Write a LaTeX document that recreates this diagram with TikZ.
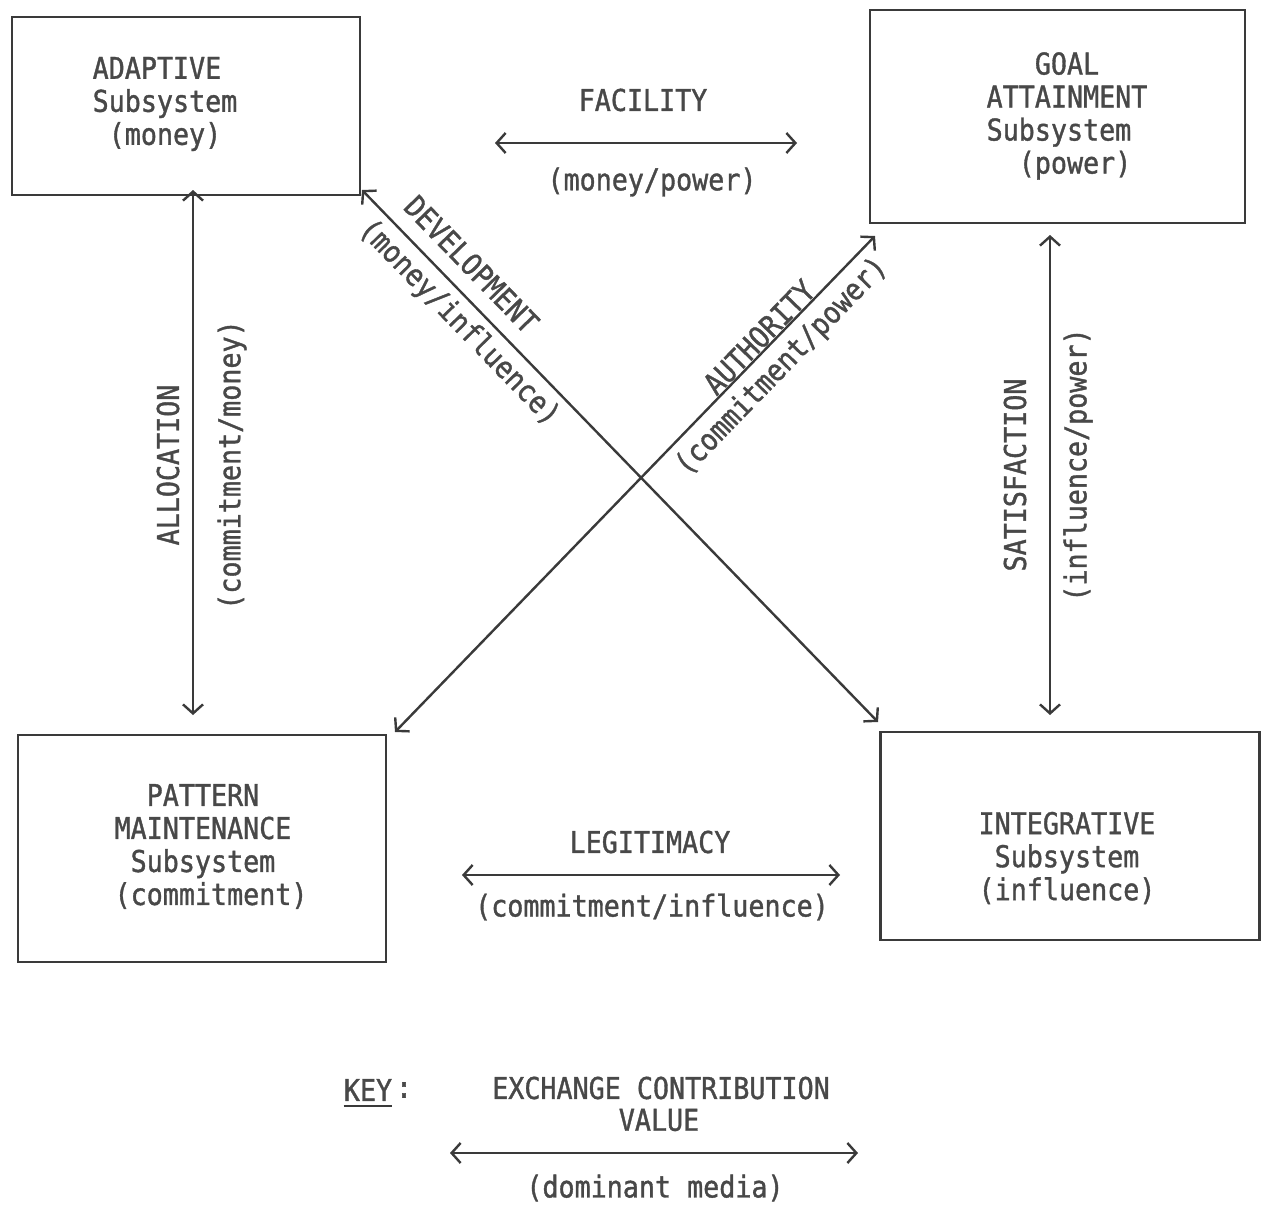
\documentclass[tikz,border=0pt]{standalone}
\usepackage{fontspec}
\setmonofont{DejaVu Sans Mono}[FakeStretch=0.89,FakeBold=1.2]
\usetikzlibrary{arrows.meta}
\definecolor{ink}{HTML}{3A3A3A}
\definecolor{type}{HTML}{484848}
\newcommand{\onech}{\phantom{X}}

\begin{document}
\begin{tikzpicture}[x=1pt,y=-1pt,
  box/.style={draw=ink, line width=2.6pt, inner sep=0pt},
  lbl/.style={text=type, font=\ttfamily\fontsize{30}{33}\selectfont, inner sep=0pt, align=center},
  tip/.tip={Straight Barb[length=9pt,width=20pt]},
  link/.style={draw=ink, line width=2.4pt, tip-tip}]

\fill[white] (0,0) rectangle (1265,1204);
\useasboundingbox (0,0) rectangle (1265,1204);

% the four subsystems
\node[box, minimum width=348pt, minimum height=178pt] (adapt) at (186,106) {};
\node[box, minimum width=375pt, minimum height=213pt] (goal) at (1057.5,116.5) {};
\node[box, minimum width=368pt, minimum height=227pt] (pattern) at (202,848.5) {};
\node[box, minimum width=379pt, minimum height=208pt] (integ) at (1070,836) {};

\node[lbl] (adaptT) at (165,104) {ADAPTIVE\onech\\Subsystem\\(money)};
\node[lbl] (goalT) at (1067,116) {GOAL\\ATTAINMENT\\Subsystem\onech\\\onech(power)};
\node[lbl] (patternT) at (203,846.5) {PATTERN\\MAINTENANCE\\Subsystem\\\onech(commitment)};
\node[lbl] (integT) at (1067,858) {INTEGRATIVE\\Subsystem\\(influence)};

% connector end points
\coordinate (facL) at (495,143);
\coordinate (facR) at (797,143);
\coordinate (legL) at (462,875);
\coordinate (legR) at (840,875);
\coordinate (allT) at (193,190);
\coordinate (allB) at (193,715);
\coordinate (satT) at (1050,235);
\coordinate (satB) at (1050,715);
\coordinate (devA) at (362,190);
\coordinate (devB) at (878,722);
\coordinate (autA) at (395,732);
\coordinate (autB) at (875,236);
\coordinate (keyL) at (450,1153);
\coordinate (keyR) at (858,1153);

% exchanges
\draw[link] (facL) -- (facR);
\node[lbl] (facility) at (643,100) {FACILITY};
\node[lbl] (facmedia) at (652,182) {(money/power)};

\draw[link] (legL) -- (legR);
\node[lbl] (legitimacy) at (650,842) {LEGITIMACY};
\node[lbl] (legmedia) at (652,907) {(commitment/influence)};

\draw[link] (allT) -- (allB);
\node[lbl, rotate=90] (allocation) at (168,465) {ALLOCATION};
\node[lbl, rotate=90] (allmedia) at (232,465) {(commitment/money)};

\draw[link] (satT) -- (satB);
\node[lbl, rotate=90] (satisfaction) at (1015,475) {SATISFACTION};
\node[lbl, rotate=90] (satmedia) at (1078,465) {(influence/power)};

\draw[link] (devA) --
  node[lbl, sloped, pos=0.175, yshift=27pt] (development) {DEVELOPMENT}
  node[lbl, sloped, pos=0.22, yshift=-23pt] (devmedia) {(money/influence)}
  (devB);

\draw[link] (autA) --
  node[lbl, sloped, pos=0.778, yshift=13pt] (authority) {AUTHORITY}
  node[lbl, sloped, pos=0.77, yshift=-24pt] (autmedia) {(commitment/power)}
  (autB);

% key
\node[lbl] (key) at (368,1090) {KEY};
\node[lbl] (keycolon) at (404,1090) {:};
\draw[ink, line width=2pt] ([yshift=-5pt]key.south west) -- ([yshift=-5pt]key.south east);
\node[lbl] (keyex) at (661,1088) {EXCHANGE CONTRIBUTION};
\node[lbl] (keyval) at (659,1120) {VALUE};
\draw[link] (keyL) -- (keyR);
\node[lbl] (keymedia) at (655,1188) {(dominant media)};

\end{tikzpicture}
\end{document}
